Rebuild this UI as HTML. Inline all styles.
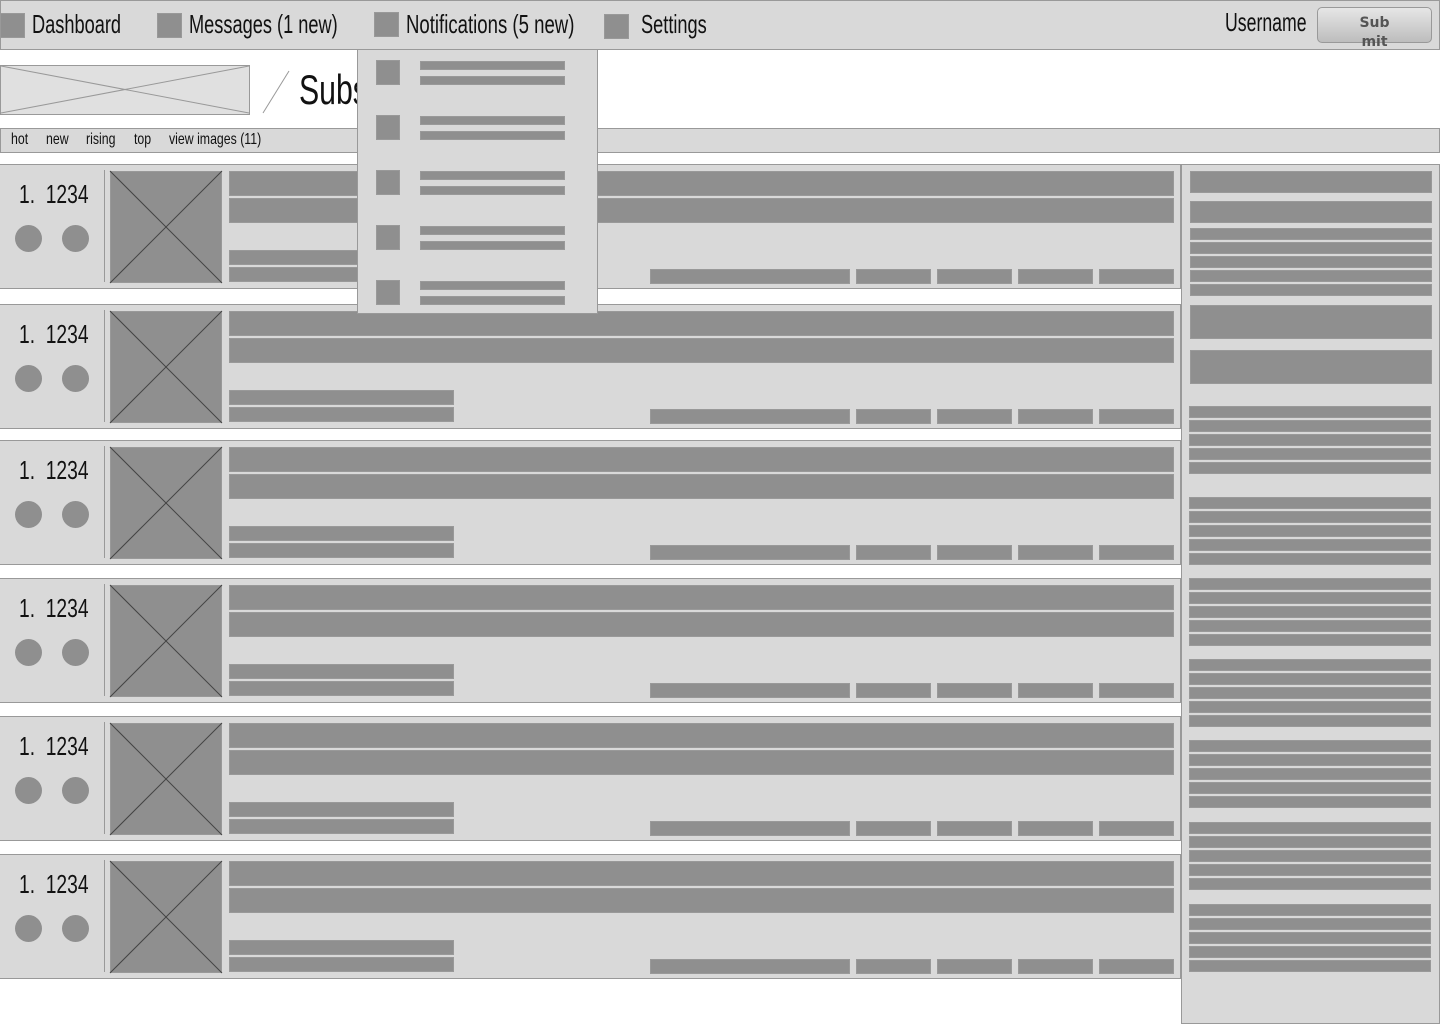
<!DOCTYPE html>
<html><head><meta charset="utf-8"><style>
body{margin:0;width:1440px;height:1024px;position:relative;background:#fff;overflow:hidden;font-family:"Liberation Sans Narrow","Liberation Sans",sans-serif;color:#111}
.a{position:absolute;box-sizing:border-box}
.b{background:#8f8f8f;border:1px solid #999}
.l{background:#d9d9d9;border:1px solid #999}
.t{position:absolute;white-space:nowrap;transform-origin:0 0}
.n{font-size:26px;transform:scaleX(.7)}
.k{font-size:16px;transform:scaleX(.77)}
.r{font-size:26px;transform:scaleX(.74)}
</style></head><body>
<div class="a l" style="left:0;top:0;width:1440px;height:50px"></div>
<div class="a b" style="left:0;top:13px;width:25px;height:25px"></div>
<div class="t n" style="left:32px;top:9px">Dashboard</div>
<div class="a b" style="left:157px;top:13px;width:25px;height:25px"></div>
<div class="t n" style="left:189px;top:9px">Messages (1 new)</div>
<div class="a b" style="left:374px;top:12px;width:25px;height:25px"></div>
<div class="t n" style="left:406px;top:9px;transform:scaleX(.715)">Notifications (5 new)</div>
<div class="a b" style="left:604px;top:14px;width:25px;height:25px"></div>
<div class="t n" style="left:641px;top:9px">Settings</div>
<div class="t n" style="left:1225px;top:7px;transform:scaleX(.68)">Username</div>
<div class="a" style="left:1317px;top:7px;width:115px;height:36px;border:1px solid #999;border-radius:5px;background:linear-gradient(#e6e6e6,#bdbdbd);text-align:center;font:bold 14px 'DejaVu Sans',sans-serif;color:#555;line-height:19px;padding-top:6px;overflow:visible">Sub<br>mit</div>

<div class="a l" style="left:0;top:65px;width:250px;height:50px;background:#e0e0e0"></div>
<svg class="a" style="left:0;top:0" width="1440" height="1024" id="s">
<line x1="1" y1="66" x2="249" y2="113" stroke="#999"/><line x1="1" y1="113" x2="249" y2="66" stroke="#999"/>
<line x1="263" y1="113" x2="289" y2="71" stroke="#999"/>
</svg>
<div class="t" style="left:299px;top:66px;font-size:42px;transform:scaleX(.72)">Subs</div>
<div class="a l" style="left:0;top:128px;width:1440px;height:25px"></div>
<div class="t k" style="left:11px;top:131px">hot</div>
<div class="t k" style="left:46px;top:131px">new</div>
<div class="t k" style="left:86px;top:131px">rising</div>
<div class="t k" style="left:134px;top:131px">top</div>
<div class="t k" style="left:169px;top:131px">view images (11)</div>

<div class="a l" style="left:1181px;top:164px;width:259px;height:860px"></div>
<div id="rows"></div>
<div class="t r" style="left:19px;top:179px">1.&nbsp;&nbsp;1234</div>
<div class="t r" style="left:19px;top:319px">1.&nbsp;&nbsp;1234</div>
<div class="t r" style="left:19px;top:455px">1.&nbsp;&nbsp;1234</div>
<div class="t r" style="left:19px;top:593px">1.&nbsp;&nbsp;1234</div>
<div class="t r" style="left:19px;top:731px">1.&nbsp;&nbsp;1234</div>
<div class="t r" style="left:19px;top:869px">1.&nbsp;&nbsp;1234</div>
<div id="dd"></div>
<script>
var h='';
function r(x,y,w,hh,c){h+='<div class="a '+(c||'b')+'" style="left:'+x+'px;top:'+y+'px;width:'+w+'px;height:'+hh+'px"></div>';}
var rows=[164,304,440,578,716,854];
var sv='';
rows.forEach(function(t){
 r(-1,t,1182,125,'l');
 h+='<div class="a" style="left:104px;top:'+(t+6)+'px;width:1px;height:112px;background:#999"></div>';
 h+='<div class="a" style="left:15px;top:'+(t+61)+'px;width:27px;height:27px;border-radius:50%;background:#8f8f8f"></div>';
 h+='<div class="a" style="left:62px;top:'+(t+61)+'px;width:27px;height:27px;border-radius:50%;background:#8f8f8f"></div>';
 r(110,t+7,112,112);
 sv+='<line x1="110" y1="'+(t+7)+'" x2="222" y2="'+(t+119)+'" stroke="#444"/><line x1="222" y1="'+(t+7)+'" x2="110" y2="'+(t+119)+'" stroke="#444"/>';
 r(229,t+7,945,25);r(229,t+34,945,25);
 r(229,t+86,225,15);r(229,t+103,225,15);
 r(650,t+105,200,15);r(856,t+105,75,15);r(937,t+105,75,15);r(1018,t+105,75,15);r(1099,t+105,75,15);
});
r(1190,171,242,22);r(1190,201,242,22);
[228,242,256,270,284].forEach(function(y){r(1190,y,242,12);});
r(1190,305,242,34);r(1190,350,242,34);
[406,497,578,659,740,822,904].forEach(function(g){for(var i=0;i<5;i++)r(1189,g+i*14,242,12);});
document.getElementById('rows').innerHTML=h;
h='';
r(357,49,241,265,'l');
for(var i=0;i<5;i++){var y=60+i*55;r(376,y,24,25);r(420,y+1,145,9);r(420,y+16,145,9);}
document.getElementById('dd').innerHTML=h;
var s2=document.createElementNS('http://www.w3.org/2000/svg','svg');
s2.setAttribute('width','1440');s2.setAttribute('height','1024');s2.setAttribute('class','a');s2.style.left='0';s2.style.top='0';
s2.innerHTML=sv;
document.getElementById('rows').appendChild(s2);
</script>
</body></html>
